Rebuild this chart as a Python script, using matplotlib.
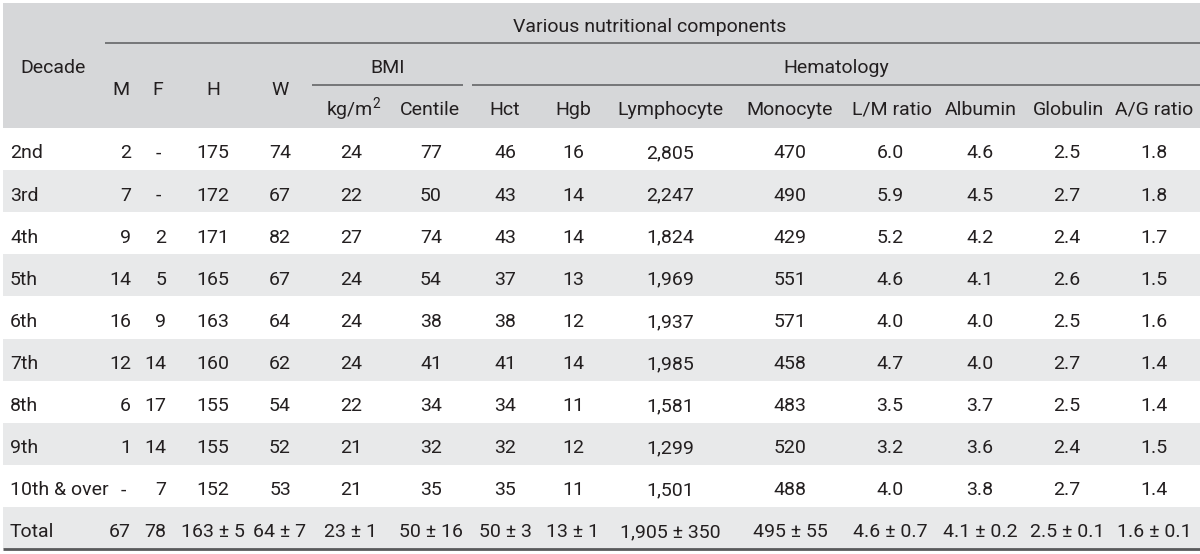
import matplotlib
matplotlib.use("Agg")
import matplotlib.pyplot as plt

plt.rcParams['font.family'] = ['Roboto', 'DejaVu Sans']
plt.rcParams['mathtext.fontset'] = 'custom'
plt.rcParams['mathtext.rm'] = 'Roboto'
plt.rcParams['mathtext.default'] = 'regular'

# Table content
decades = ['2nd', '3rd', '4th', '5th', '6th', '7th', '8th', '9th', '10th & over']
male = ['2', '7', '9', '14', '16', '12', '6', '1', '-']
female = ['-', '-', '2', '5', '9', '14', '17', '14', '7']
height = ['175', '172', '171', '165', '163', '160', '155', '155', '152']
weight = ['74', '67', '82', '67', '64', '62', '54', '52', '53']
bmi_kg = ['24', '22', '27', '24', '24', '24', '22', '21', '21']
bmi_centile = ['77', '50', '74', '54', '38', '41', '34', '32', '35']
hct = ['46', '43', '43', '37', '38', '41', '34', '32', '35']
hgb = ['16', '14', '14', '13', '12', '14', '11', '12', '11']
lymphocyte = ['2,805', '2,247', '1,824', '1,969', '1,937', '1,985', '1,581', '1,299', '1,501']
monocyte = ['470', '490', '429', '551', '571', '458', '483', '520', '488']
lm_ratio = ['6.0', '5.9', '5.2', '4.6', '4.0', '4.7', '3.5', '3.2', '4.0']
albumin = ['4.6', '4.5', '4.2', '4.1', '4.0', '4.0', '3.7', '3.6', '3.8']
globulin = ['2.5', '2.7', '2.4', '2.6', '2.5', '2.7', '2.5', '2.4', '2.7']
ag_ratio = ['1.8', '1.8', '1.7', '1.5', '1.6', '1.4', '1.4', '1.5', '1.4']

total_row = ['Total', '67', '78', '163 \u00b1 5', '64 \u00b1 7', '23 \u00b1 1', '50 \u00b1 16',
             '50 \u00b1 3', '13 \u00b1 1', '1,905 \u00b1 350', '495 \u00b1 55', '4.6 \u00b1 0.7',
             '4.1 \u00b1 0.2', '2.5 \u00b1 0.1', '1.6 \u00b1 0.1']

col_headers = ['Decade', 'M', 'F', 'H', 'W', 'kg/m$^{2}$', 'Centile', 'Hct', 'Hgb', 'Lymphocyte',
               'Monocyte', 'L/M ratio', 'Albumin', 'Globulin', 'A/G ratio']

columns = [decades, male, female, height, weight, bmi_kg, bmi_centile, hct, hgb,
           lymphocyte, monocyte, lm_ratio, albumin, globulin, ag_ratio]
rows = [list(r) for r in zip(*columns)] + [total_row]

# Layout (pixel space)
W_PX, H_PX = 1200, 554
left, right = 3, 1200
head_top, head_bot = 3, 128
row_h = 42.1
col_x = [10, 131, 166, 213, 280, 351, 431, 505, 573, 670, 790, 890, 980, 1067, 1154]
header_x = [53, 121, 158, 213, 280, 354, 430, 505, 573, 670, 790, 892, 981, 1068, 1154]

txt_color = '#231f20'
head_bg = '#d6d7d9'
band_bg = '#e8e9ea'
line_c = '#6d6e70'
fs = 14

fig = plt.figure(figsize=(W_PX / 100, H_PX / 100), dpi=100)
ax = fig.add_axes([0, 0, 1, 1])
ax.set_xlim(0, W_PX)
ax.set_ylim(H_PX, 0)
ax.axis('off')

# header background
ax.fill_between([left, right], head_top, head_bot, color=head_bg, lw=0)

# alternating row bands
for i in range(len(rows)):
    top = head_bot + i * row_h
    if i % 2 == 1:
        ax.fill_between([left, right], top, top + row_h, color=band_bg, lw=0)

# header rules
ax.plot([105, right], [43, 43], color=line_c, lw=1.3, solid_capstyle='butt')
ax.plot([312, 463], [85, 85], color=line_c, lw=1.3, solid_capstyle='butt')
ax.plot([472, right], [85, 85], color=line_c, lw=1.3, solid_capstyle='butt')
bottom = head_bot + len(rows) * row_h
ax.plot([left, right], [bottom, bottom], color='#58595b', lw=2.0, solid_capstyle='butt')

# header text
ax.text(650, 32, 'Various nutritional components', ha='center', va='baseline',
        fontsize=fs, color=txt_color)
ax.text(388, 73, 'BMI', ha='center', va='baseline', fontsize=fs, color=txt_color)
ax.text(836, 73, 'Hematology', ha='center', va='baseline', fontsize=fs, color=txt_color)
for j, label in enumerate(col_headers):
    if j == 0:
        y = 73
    elif j <= 4:
        y = 95
    else:
        y = 115
    ax.text(header_x[j], y, label, ha='center', va='baseline', fontsize=fs, color=txt_color)

# body text
for i, row in enumerate(rows):
    base = head_bot + i * row_h + 30.5
    for j, val in enumerate(row):
        if j == 0:
            ax.text(col_x[j], base, val, ha='left', va='baseline', fontsize=fs, color=txt_color)
        elif j in (1, 2):
            # M / F counts are right aligned, dashes sit a bit left
            if val == '-':
                ax.text(col_x[j] - 8, base, val, ha='center', va='baseline', fontsize=fs,
                        color=txt_color)
            else:
                ax.text(col_x[j], base, val, ha='right', va='baseline', fontsize=fs,
                        color=txt_color)
        else:
            ax.text(col_x[j], base, val, ha='center', va='baseline', fontsize=fs, color=txt_color)

fig.savefig('out.png', dpi=100, facecolor='white')
